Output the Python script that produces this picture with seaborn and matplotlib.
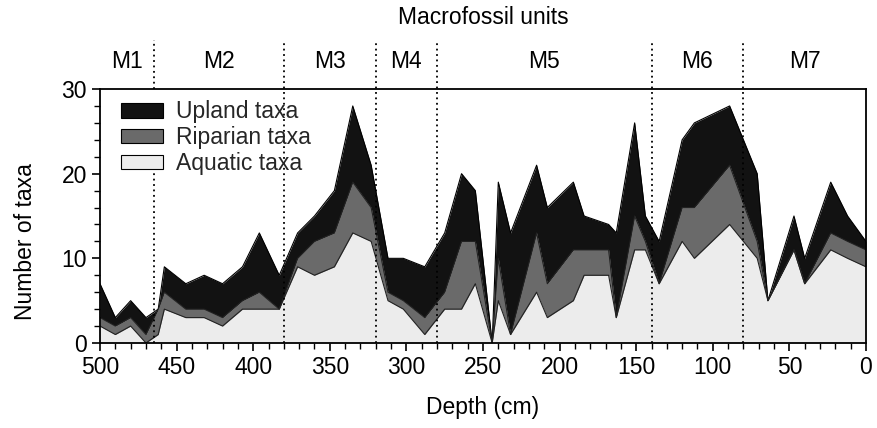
import numpy as np
import pandas as pd
import matplotlib
matplotlib.use("Agg")
import matplotlib.pyplot as plt
from matplotlib.patches import Patch
from matplotlib.ticker import MultipleLocator
import seaborn as sns

# ---- data ----
depth = [500, 490, 480, 470, 462, 458, 444, 432, 420, 407, 396, 383, 371, 360, 347,
         335, 323, 312, 302, 288, 275, 264, 255, 244, 240, 232, 215, 208, 191, 184,
         168, 163, 151, 144, 135, 120, 112, 89, 71, 64, 47, 40, 23, 12, 0]
aquatic = [2, 1, 2, 0, 1, 4, 3, 3, 2, 4, 4, 4, 9, 8, 9,
           13, 12, 5, 4, 1, 4, 4, 7, 0, 5, 1, 6, 3, 5, 8,
           8, 3, 11, 11, 7, 12, 10, 14, 10, 5, 11, 7, 11, 10, 9]
riparian = [1, 1, 1, 1, 3, 2, 1, 1, 1, 1, 2, 0, 1, 4, 4,
            6, 4, 1, 1, 2, 2, 8, 5, 0, 5, 0, 7, 4, 6, 3,
            3, 0, 4, 1, 0, 4, 6, 7, 2, 0, 0, 0, 2, 2, 2]
upland = [4, 1, 2, 2, 0, 3, 3, 4, 4, 4, 7, 4, 3, 3, 5,
          9, 5, 4, 5, 6, 7, 8, 6, 0, 9, 12, 8, 9, 8, 4,
          3, 10, 11, 3, 5, 8, 10, 7, 8, 0, 4, 3, 6, 3, 1]
series_names = ["Upland taxa", "Riparian taxa", "Aquatic taxa"]
unit_labels = ["M1", "M2", "M3", "M4", "M5", "M6", "M7"]
unit_bounds = [500, 465, 380, 320, 280, 140, 80, 0]

# ---- styling ----
sns.set_theme(style="ticks")
plt.rcParams["font.family"] = ["Liberation Sans", "DejaVu Sans"]

FS = 16.5
c_up, c_rip, c_aq = "#121212", "#6a6a6a", "#ececec"

df = pd.DataFrame({"depth": depth, "aquatic": aquatic,
                   "riparian": riparian, "upland": upland})
df["cum_aq"] = df["aquatic"]
df["cum_rip"] = df["aquatic"] + df["riparian"]
df["total"] = df["cum_rip"] + df["upland"]

fig = plt.figure(figsize=(8.78, 4.28), dpi=100)
ax = fig.add_axes([0.1139, 0.1986, 0.8724, 0.5934])

ax.fill_between(df["depth"], 0, df["cum_aq"], color=c_aq, lw=0, zorder=1)
ax.fill_between(df["depth"], df["cum_aq"], df["cum_rip"], color=c_rip, lw=0, zorder=1)
ax.fill_between(df["depth"], df["cum_rip"], df["total"], color=c_up, lw=0, zorder=1)

sns.lineplot(data=df, x="depth", y="total", ax=ax, color="black", lw=0.8, zorder=2)
sns.lineplot(data=df, x="depth", y="cum_rip", ax=ax, color="#222222", lw=0.8, zorder=2)
sns.lineplot(data=df, x="depth", y="cum_aq", ax=ax, color="#222222", lw=0.8, zorder=2)

ax.set_xlim(500, 0)
ax.set_ylim(0, 30)
ax.xaxis.set_major_locator(MultipleLocator(50))
ax.xaxis.set_minor_locator(MultipleLocator(10))
ax.yaxis.set_major_locator(MultipleLocator(10))
ax.yaxis.set_minor_locator(MultipleLocator(2))
ax.tick_params(axis="both", which="major", direction="out", length=6, width=1.2,
               labelsize=FS, color="black", labelcolor="black")
ax.tick_params(axis="both", which="minor", direction="out", length=4, width=1.0,
               color="black")
for s in ax.spines.values():
    s.set_visible(True)
    s.set_linewidth(1.3)
    s.set_color("black")

ax.set_xlabel("Depth (cm)", fontsize=FS, color="black", labelpad=12)
ax.set_ylabel("Number of taxa", fontsize=FS, color="black")
ax.yaxis.set_label_coords(-0.082, 0.40)

# unit boundaries
trans = ax.get_xaxis_transform()
top_ext = 1 + (89 - 40) / 254
for i, b in enumerate(unit_bounds[1:-1]):
    if i == 0:
        ax.vlines(b, 0, (343 - 173) / 254, transform=trans, colors="black",
                  linestyles=(0, (1, 2)), lw=1.3, zorder=3)
        ax.vlines(b, 1.0, top_ext, transform=trans, colors="black",
                  linestyles=(0, (1, 2)), lw=1.3, zorder=3, clip_on=False)
    else:
        ax.vlines(b, 0, top_ext, transform=trans, colors="black",
                  linestyles=(0, (1, 2)), lw=1.3, zorder=3, clip_on=False)
for lab, a, b in zip(unit_labels, unit_bounds[:-1], unit_bounds[1:]):
    ax.text((a + b) / 2, 1 + (89 - 61) / 254, lab, transform=trans,
            ha="center", va="center", fontsize=FS, color="black")
fig.text(483 / 878, 1 - 18 / 428, "Macrofossil units", ha="center", va="center",
         fontsize=FS, color="black")

handles = [Patch(facecolor=c_up, edgecolor="black", lw=0.8),
           Patch(facecolor=c_rip, edgecolor="black", lw=0.8),
           Patch(facecolor=c_aq, edgecolor="black", lw=0.8)]
leg = ax.legend(handles, series_names, loc="upper left",
                bbox_to_anchor=(0.028, 0.955), frameon=False, fontsize=FS,
                handlelength=1.8, handleheight=0.6, labelspacing=0.12,
                handletextpad=0.6, borderpad=0, borderaxespad=0)

fig.savefig("out.png", dpi=100)
